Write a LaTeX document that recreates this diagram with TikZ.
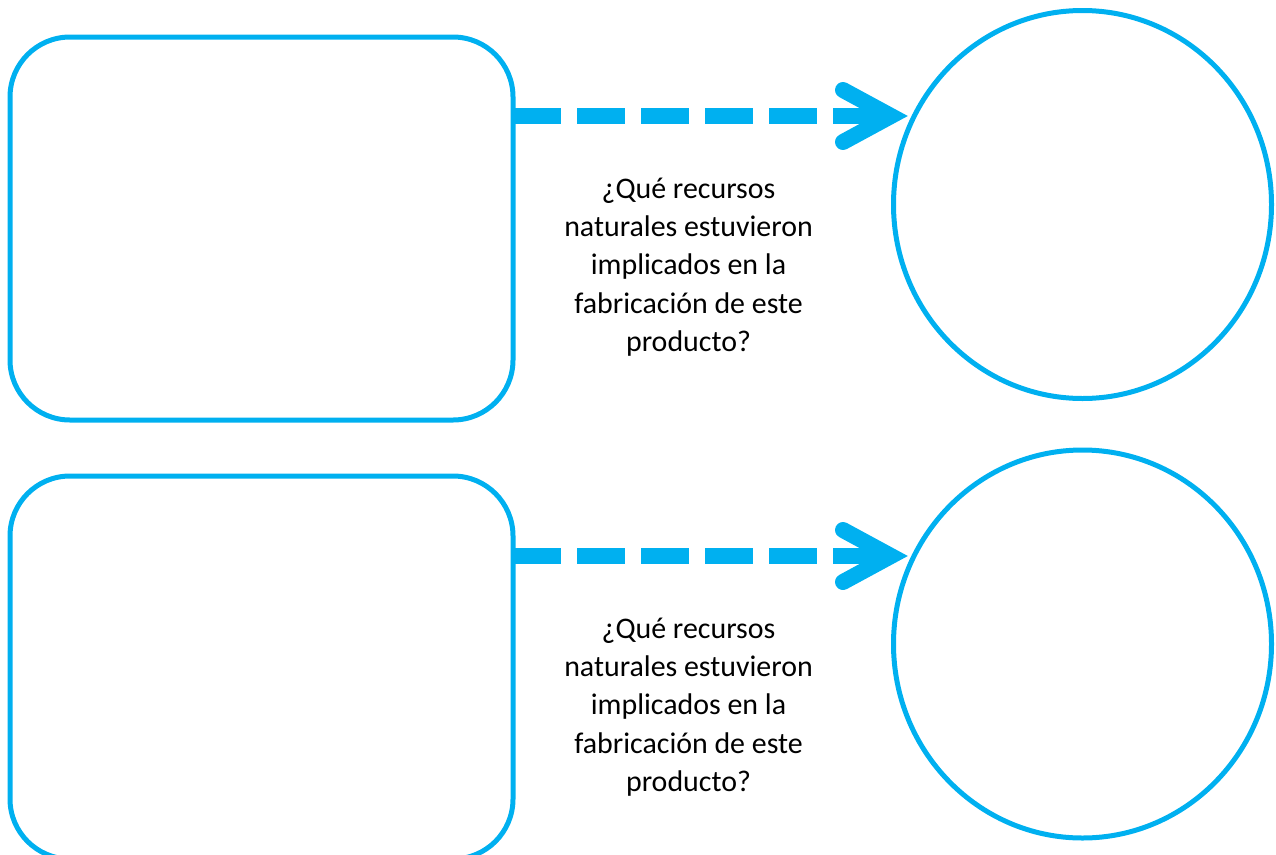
\documentclass[tikz,border=0pt]{standalone}
\usepackage{fontspec}
\setmainfont{Carlito}
\usetikzlibrary{shapes.geometric}
\definecolor{skyblue}{HTML}{00B0F0}
\tikzset{
  box/.style={draw=skyblue, line width=5pt, rounded corners=60pt, minimum width=503pt, minimum height=383pt, inner sep=0pt, outer sep=0pt},
  oval/.style={draw=skyblue, line width=5pt, ellipse, minimum width=378pt, minimum height=388pt, inner sep=0pt, outer sep=0pt},
  shaft/.style={draw=skyblue, line width=16pt, dash pattern=on 48pt off 16pt},
  chevron/.style={draw=skyblue, line width=16pt, line cap=round, line join=miter},
  question/.style={align=center, font=\fontsize{29.9pt}{38.3pt}\selectfont, text=black, inner sep=0pt}
}
\begin{document}
\begin{tikzpicture}[x=1pt, y=-1pt]
\useasboundingbox (0,0) rectangle (1276,854);
% top row
\node[box] (r1) at (261.5,228.5) {};
\node[oval] (c1) at (1082.5,204.5) {};
\coordinate (t1) at (891,116);
\coordinate (u1) at (843,90);
\coordinate (d1) at (843,142);
\draw[shaft] (r1.east |- t1) -- (t1);
\draw[chevron] (u1) -- (t1) -- (d1);
\node[question] (q1) at (688.5,267) {¿Qué recursos\\naturales estuvieron\\implicados en la\\fabricación de este\\producto?};
% bottom row
\node[box] (r2) at (261.5,667.5) {};
\node[oval] (c2) at (1082.5,644) {};
\coordinate (t2) at (891,556);
\coordinate (u2) at (843,530);
\coordinate (d2) at (843,582);
\draw[shaft] (r2.east |- t2) -- (t2);
\draw[chevron] (u2) -- (t2) -- (d2);
\node[question] (q2) at (688.5,707) {¿Qué recursos\\naturales estuvieron\\implicados en la\\fabricación de este\\producto?};
\end{tikzpicture}
\end{document}
